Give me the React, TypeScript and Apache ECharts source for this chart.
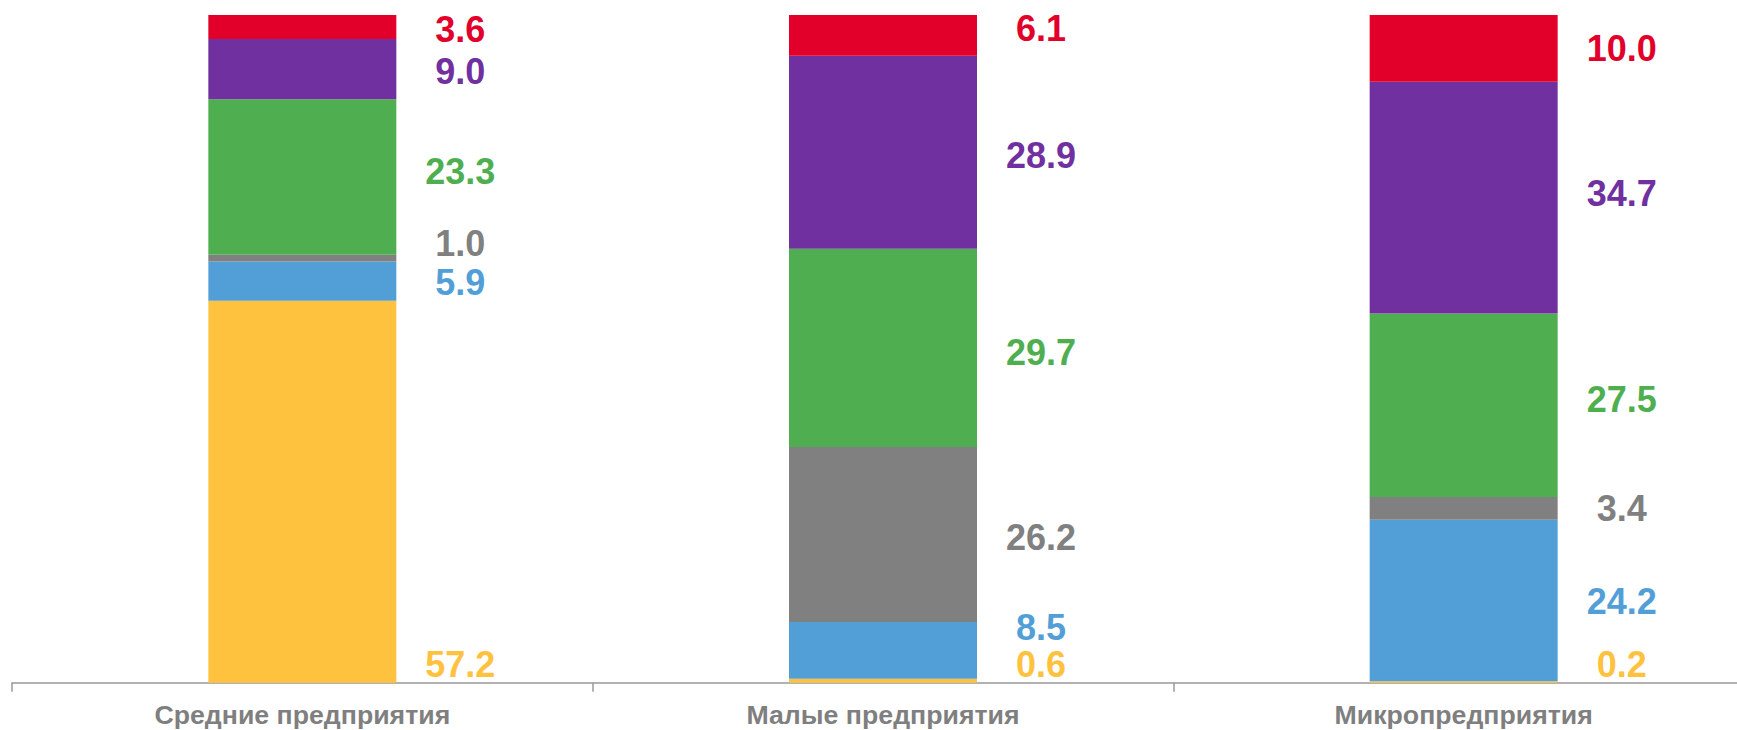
import React, { useEffect, useRef } from "react";
import * as echarts from "echarts";

const categories = ["Средние предприятия", "Малые предприятия", "Микропредприятия"];

const yellowValues = [57.2, 0.6, 0.2];
const blueValues = [5.9, 8.5, 24.2];
const grayValues = [1.0, 26.2, 3.4];
const greenValues = [23.3, 29.7, 27.5];
const purpleValues = [9.0, 28.9, 34.7];
const redValues = [3.6, 6.1, 10.0];

const seriesDefs = [
  { name: "yellow", data: yellowValues, color: "#FFC23F" },
  { name: "blue", data: blueValues, color: "#529FD7" },
  { name: "gray", data: grayValues, color: "#808080" },
  { name: "green", data: greenValues, color: "#4FAF50" },
  { name: "purple", data: purpleValues, color: "#7030A0" },
  { name: "red", data: redValues, color: "#E2002B" },
];

// vertical label nudges (px) per series, per category
const labelNudge: Record<string, number[]> = {
  yellow: [0, 0, 0],
  blue: [1, -23, 1],
  gray: [-15, 3, 0],
  green: [-5, 5, -6],
  purple: [2, 3, -4],
  red: [2, -7, 0],
};

const BAR_W = 188;
const LABEL_DX = 64;
const CHART_W = 1754; // plot extends past the right edge of the 1737px page

export default function App() {
  const ref = useRef<HTMLDivElement>(null);
  useEffect(() => {
    if (!ref.current) return;
    const chart = echarts.init(ref.current, null, { renderer: "svg" });
    const series = seriesDefs.map((s) => {
      const isBottom = s.name === "yellow";
      return {
        name: s.name,
        type: "bar",
        stack: "total",
        barWidth: BAR_W,
        itemStyle: { color: s.color },
        data: s.data.map((v, i) => ({
          value: v,
          label: isBottom
            ? { offset: [BAR_W / 2 + LABEL_DX, 0] }
            : { offset: [0, labelNudge[s.name][i]] },
        })),
        label: {
          show: true,
          position: isBottom ? "insideBottom" : "right",
          distance: isBottom ? 18 : LABEL_DX,
          align: "center",
          verticalAlign: "middle",
          color: s.color,
          fontFamily: "Liberation Sans, Arial, sans-serif",
          fontWeight: "bold",
          fontSize: 36,
          lineHeight: 32,
          formatter: (p: any) => Number(p.value).toFixed(1),
        },
      };
    });
    chart.setOption({
      animation: false,
      grid: { left: 12, right: 0, top: 15, bottom: 47.3, containLabel: false },
      xAxis: {
        type: "category",
        data: categories,
        boundaryGap: true,
        axisLine: { show: true, lineStyle: { color: "#999999", width: 1.5 } },
        axisTick: { show: true, length: 9, lineStyle: { color: "#999999", width: 1.5 } },
        axisLabel: {
          color: "#7F7F7F",
          fontFamily: "Liberation Sans, Arial, sans-serif",
          fontWeight: "bold",
          fontSize: 26.7,
          margin: 19,
        },
      },
      yAxis: {
        type: "value",
        min: 0,
        max: 100,
        show: false,
        splitLine: { show: false },
      },
      series,
    });
    return () => chart.dispose();
  }, []);
  return (
    <div
      ref={ref}
      style={{ position: "fixed", left: 0, top: 0, width: CHART_W, height: 730, background: "#fff" }}
    />
  );
}
